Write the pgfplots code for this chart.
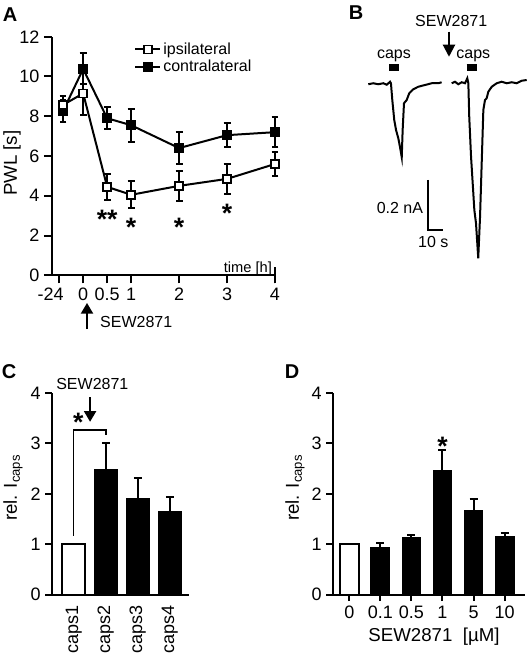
\documentclass[border=0pt]{standalone}
\usepackage{fontspec}
\setmainfont{Liberation Sans}
\usepackage{pgfplots}
\pgfplotsset{compat=1.18}
\usetikzlibrary{arrows.meta}

\pgfplotstableread{
x y e
-0.42 8.57 0.45
0 9.15 1.09
0.5 4.45 0.65
1 4.05 0.67
2 4.5 0.75
3 4.85 0.77
4 5.6 0.6
}\ipsi
\pgfplotstableread{
x y e
-0.42 8.26 0.55
0 10.38 0.78
0.5 7.9 0.55
1 7.55 0.82
2 6.4 0.8
3 7.05 0.6
4 7.2 0.77
}\contra
\pgfplotstableread{
x y e
2 2.48 0.52
3 1.90 0.42
4 1.64 0.30
}\capsdata
\pgfplotstableread{
x y e
1 0.93 0.10
2 1.13 0.06
3 2.46 0.41
4 1.66 0.23
5 1.15 0.08
}\dosedata

\begin{document}
\begin{tikzpicture}
\useasboundingbox (0,0) rectangle (398.25pt,490.5pt);
\pgfplotsset{
  panel/.style={
    scale only axis, clip=false,
    axis lines=left, axis line style={-, line width=1.5pt},
    every tick/.style={line width=1.5pt, black},
    tick align=outside, major tick length=5pt,
    /pgf/number format/assume math mode=true,
    ticklabel style={font=\fontsize{13.5}{13.5}\selectfont},
    label style={font=\fontsize{14}{14}\selectfont},
  },
}
\tikzset{txt/.style={font=\fontsize{12}{12}\selectfont, inner sep=0pt},
  star/.style={font=\fontsize{20}{20}\bfseries, inner sep=0pt, anchor=base},
  lett/.style={font=\fontsize{15}{15}\bfseries, inner sep=0pt}}

% ---------------- Panel A
\begin{axis}[panel, at={(39pt,284pt)}, anchor=south west,
  width=167.25pt, height=178.95pt,
  xmin=-0.65, xmax=4, ymin=0, ymax=12,
  xtick={-0.51,0,0.5,1,2,3,4},
  xticklabels={{\makebox[0pt]{\hspace*{-12pt}-24}},0,0.5,1,2,3,4},
  ytick={0,2,...,12}, major tick length=6pt,
  extra x ticks={4}, extra x tick labels={},
  extra x tick style={tick align=center, major tick length=12pt},
  ylabel={PWL [s]},
  ylabel style={at={(axis description cs:-0.179,0.47)}, anchor=center},
  reverse legend,
  legend style={at={(axis description cs:0.368,0.985)}, anchor=north west,
    draw=none, fill=none, inner sep=0pt, row sep=0pt,
    font=\fontsize{12}{12}\selectfont,
    nodes={inner sep=1.5pt}},
  legend cell align=left,
  legend image code/.code={\draw[mark repeat=2,mark phase=2,#1] plot coordinates {(0pt,0pt)(9.4pt,0pt)(18.75pt,0pt)};},
]
\addplot[black, line width=1.5pt, mark=square*, mark options={fill=black, line width=1pt, mark size=3.3pt},
  error bars/.cd, y dir=both, y explicit,
  error bar style={line width=1.5pt}, error mark options={rotate=90, mark size=2.6pt, line width=1.5pt}]
  table[x=x, y=y, y error=e] {\contra};
\addlegendentry{contralateral}
\addplot[black, line width=1.5pt, mark=square*, mark options={fill=white, line width=1.1pt, mark size=3pt},
  error bars/.cd, y dir=both, y explicit,
  error bar style={line width=1.5pt}, error mark options={rotate=90, mark size=2.6pt, line width=1.5pt}]
  table[x=x, y=y, y error=e] {\ipsi};
\addlegendentry{ipsilateral}
\node[star] at (axis cs:0.5,2.38) {**};
\node[star] at (axis cs:1,1.95) {*};
\node[star] at (axis cs:2,1.95) {*};
\node[star] at (axis cs:3,2.65) {*};
\node[anchor=base east, inner sep=0pt, font=\fontsize{11}{11}\selectfont] at (axis cs:3.94,0.12) {time [h]};
\draw[-{Triangle[width=9pt,length=8pt]}, line width=1.5pt] (axis cs:0.08,-2.70) -- (axis cs:0.08,-1.39);
\node[txt, anchor=west] at (axis cs:0.35,-2.35) {SEW2871};
\end{axis}

% ---------------- Panel B
\begin{axis}[at={(276pt,297pt)}, anchor=south west, scale only axis,
  width=120pt, height=130.5pt, hide axis, clip=false,
  xmin=0, xmax=106.67, ymin=-0.696, ymax=0]
\addplot[black, line width=1.5pt] coordinates {
(0.2,-0.001)(3.5,0.003)(6.9,-0.001)(10.2,0.003)(12.5,-0.003)(14.7,0.009)(15.3,0.003)
(16.2,-0.064)(17.5,-0.144)(18.7,-0.184)(20.2,-0.217)(21.3,-0.251)(22.5,-0.293)
(23.1,-0.184)(24.0,-0.077)(25.8,-0.064)(27.5,-0.037)(30.2,-0.021)(33.5,-0.011)
(38.0,-0.004)(42.5,0.003)(46.9,0.003)(49.1,0.007)};
\addplot[black, line width=1.5pt] coordinates {
(55.8,0.003)(58.0,0.009)(60.2,-0.001)(62.5,0.007)(64.7,0.003)(66.2,0.023)(66.9,0.003)
(67.5,-0.131)(68.7,-0.291)(69.8,-0.397)(70.9,-0.504)(72.0,-0.557)(73.5,-0.697)
(74.7,-0.531)(75.8,-0.317)(76.9,-0.104)(78.0,-0.064)(79.1,-0.057)(80.2,-0.031)
(82.5,-0.011)(85.8,0.003)(89.1,0.009)(92.5,0.003)(95.8,0.007)(99.1,0.003)
(102.5,0.013)(105.8,0.016)};
\addplot[black, line width=4.7pt] coordinates {(14,0.066)(20.9,0.066)};
\addplot[black, line width=4.7pt] coordinates {(65.8,0.066)(72.9,0.066)};
\addplot[black, line width=1.5pt] coordinates {(40.2,-0.384)(40.2,-0.584)(50.2,-0.584)};
\node[txt] at (axis cs:17.3,0.113) {caps};
\node[txt] at (axis cs:70.2,0.113) {caps};
\node[txt] at (axis cs:55.5,0.254) {SEW2871};
\draw[-{Triangle[width=9pt,length=9pt]}, line width=1.5pt] (axis cs:54,0.209) -- (axis cs:54,0.109);
\node[txt, anchor=east] at (axis cs:36.9,-0.497) {0.2 nA};
\node[txt] at (axis cs:43.5,-0.631) {10 s};
\end{axis}

% ---------------- Panel C
\begin{axis}[panel, at={(39pt,44.6pt)}, anchor=south west,
  width=102.75pt, height=151.1pt,
  xmin=0.32, xmax=4.6, ymin=0, ymax=4,
  ytick={0,1,2,3,4}, xtick={1,2,3,4},
  xticklabels={caps1,caps2,caps3,caps4},
  xticklabel style={rotate=90, anchor=east},
  x tick style={draw=none},
  ylabel={rel. I\textsubscript{caps}},
  ylabel style={at={(axis description cs:-0.285,0.53)}, anchor=center},
]
\addplot[ybar, bar shift=0pt, bar width=0.72, fill=white, draw=black, line width=1.2pt] coordinates {(1,1)};
\addplot[ybar, bar shift=0pt, bar width=0.72, fill=black, draw=black, line width=1pt,
  error bars/.cd, y dir=plus, y explicit,
  error bar style={line width=1.5pt}, error mark options={rotate=90, mark size=3pt, line width=1.5pt}]
  table[x=x, y=y, y error=e] {\capsdata};
\addplot[black, line width=1.1pt] coordinates {(1,1.17)(1,3.27)(2,3.27)(2,3.16)};
\node[star] at (axis cs:1.14,3.23) {*};
\draw[-{Triangle[width=9pt,length=8pt]}, line width=1.5pt] (axis cs:1.51,3.92) -- (axis cs:1.51,3.43);
\node[txt] at (axis cs:1.58,4.19) {SEW2871};
\end{axis}

% ---------------- Panel D
\begin{axis}[panel, at={(249.75pt,44.6pt)}, anchor=south west,
  width=144pt, height=151.1pt,
  xmin=-0.53, xmax=5.66, ymin=0, ymax=4,
  ytick={0,1,2,3,4}, xtick={0,1,2,3,4,5},
  xticklabels={0,0.1,0.5,1,5,10},
  xlabel={SEW2871~~[µM]},
  xlabel style={at={(axis description cs:0.526,-0.211)}, anchor=center},
  ylabel={rel. I\textsubscript{caps}},
  ylabel style={at={(axis description cs:-0.198,0.53)}, anchor=center},
]
\addplot[ybar, bar shift=0pt, bar width=0.6, fill=white, draw=black, line width=1.2pt] coordinates {(0,1)};
\addplot[ybar, bar shift=0pt, bar width=0.6, fill=black, draw=black, line width=1pt,
  error bars/.cd, y dir=plus, y explicit,
  error bar style={line width=1.5pt}, error mark options={rotate=90, mark size=3pt, line width=1.5pt}]
  table[x=x, y=y, y error=e] {\dosedata};
\node[star] at (axis cs:3,2.77) {*};
\end{axis}

\node[lett] at (7.5pt,479.25pt) {A};
\node[lett] at (267pt,481.1pt) {B};
\node[lett] at (6.75pt,211.5pt) {C};
\node[lett] at (219pt,211.5pt) {D};
\end{tikzpicture}
\end{document}
